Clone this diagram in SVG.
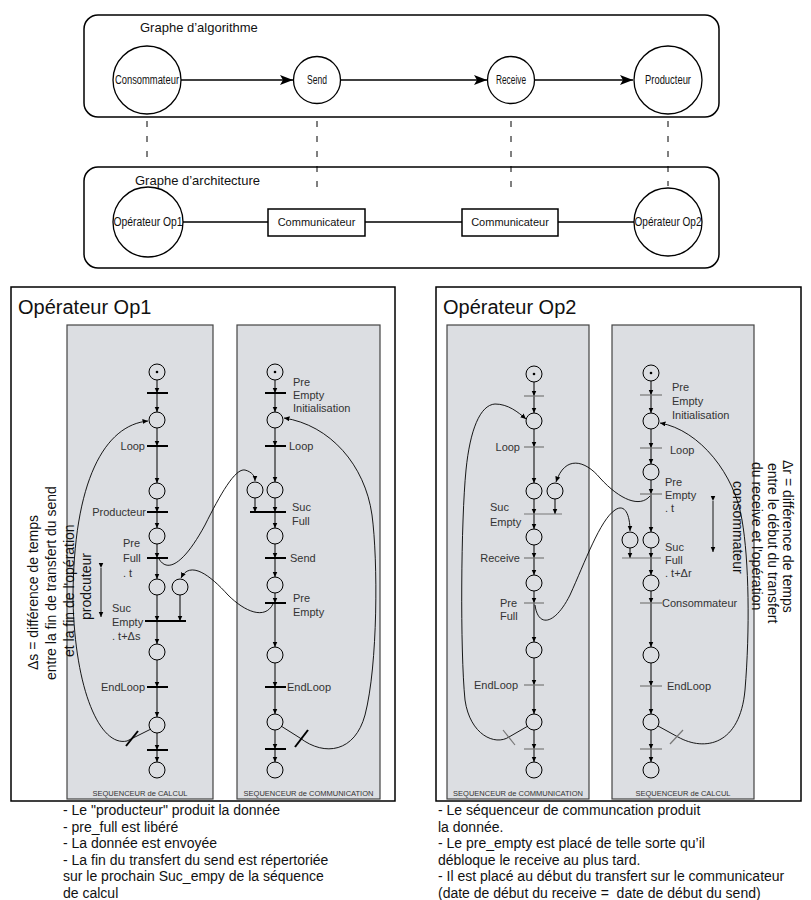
<svg xmlns="http://www.w3.org/2000/svg" width="811" height="900" viewBox="0 0 811 900">
<defs>
<marker id="big" markerUnits="userSpaceOnUse" markerWidth="14" markerHeight="10" refX="13" refY="5" orient="auto"><path d="M0,0 L13,5 L0,10 L3,5 z" fill="#000"/></marker>
<marker id="sm" markerUnits="userSpaceOnUse" markerWidth="6" markerHeight="6" refX="5.5" refY="2.5" orient="auto"><path d="M0,0 L5.5,2.5 L0,5 z" fill="#000"/></marker>
</defs>
<style>
text{font-family:"Liberation Sans",Arial,Helvetica,sans-serif}
.ttl{font-size:13px;fill:#111}
.node{fill:#fff;stroke:#000;stroke-width:1.3}
.cl{font-size:12px;text-anchor:middle;fill:#111}
.dash{stroke:#000;stroke-width:1;stroke-dasharray:6 9;fill:none}
.edge{stroke:#000;stroke-width:1.6;fill:none}
.panel{fill:#fff;stroke:#000;stroke-width:1.5}
.seq{fill:#dcdee2;stroke:#444;stroke-width:1.2}
.pl{fill:none;stroke:#000;stroke-width:1}
.ln{fill:none;stroke:#000;stroke-width:1;marker-end:url(#sm)}
.cv{fill:none;stroke:#000;stroke-width:0.9}
.b1{stroke:#000;stroke-width:2}
.b2{stroke:#777;stroke-width:1.2}
.lb{font-size:11px;fill:#333}
.seqt{font-size:7.5px;fill:#333;text-anchor:middle}
.vt{font-size:14px;fill:#111}
.note{font-size:14px;fill:#111;white-space:pre}
.ptl{font-size:20px;fill:#111}
</style>

<g id="algo-graph">
<rect x="84" y="15" width="635" height="102" rx="14" fill="#fff" stroke="#000" stroke-width="1.5"/>
<text class="ttl" x="140" y="32">Graphe d’algorithme</text>
</g>
<g id="arch-graph">
<rect x="84" y="167" width="635" height="101" rx="14" fill="#fff" stroke="#000" stroke-width="1.5"/>
<text class="ttl" x="135" y="185">Graphe d’architecture</text>
</g>

<g id="top-connectors">
<path class="dash" d="M147,121 V165 M317,121 V192 M511,121 V192 M668,121 V186"/>
<path class="edge" d="M181,80 H293" marker-end="url(#big)"/>
<path class="edge" d="M341,80 H487" marker-end="url(#big)"/>
<path class="edge" d="M535,80 H633" marker-end="url(#big)"/>
<path class="edge" d="M183,222 H268 M365,222 H462 M558,222 H634"/>
</g>

<g id="consommateur"><circle class="node" cx="147" cy="80" r="34"/><text class="cl" x="147" y="84" textLength="64" lengthAdjust="spacingAndGlyphs">Consommateur</text></g>
<g id="send"><circle class="node" cx="317" cy="80" r="23.5"/><text class="cl" x="317" y="84" textLength="20" lengthAdjust="spacingAndGlyphs">Send</text></g>
<g id="receive"><circle class="node" cx="511" cy="80" r="23.5"/><text class="cl" x="511" y="84" textLength="30" lengthAdjust="spacingAndGlyphs">Receive</text></g>
<g id="producteur"><circle class="node" cx="668" cy="80" r="34"/><text class="cl" x="668" y="84" textLength="46" lengthAdjust="spacingAndGlyphs">Producteur</text></g>

<g id="op1"><circle class="node" cx="148" cy="222" r="35"/><text class="cl" x="148" y="226" textLength="69" lengthAdjust="spacingAndGlyphs">Opérateur Op1</text></g>
<g id="comm1"><rect x="268" y="209" width="97" height="27" fill="#fff" stroke="#000" stroke-width="1.5"/><text x="316.5" y="226" font-size="11" text-anchor="middle" fill="#111">Communicateur</text></g>
<g id="comm2"><rect x="462" y="209" width="96" height="27" fill="#fff" stroke="#000" stroke-width="1.5"/><text x="510" y="226" font-size="11" text-anchor="middle" fill="#111">Communicateur</text></g>
<g id="op2"><circle class="node" cx="668" cy="222" r="34"/><text class="cl" x="668" y="226" textLength="67" lengthAdjust="spacingAndGlyphs">Opérateur Op2</text></g>

<g id="panel-op1">
<rect class="panel" x="11" y="287" width="384" height="514"/>
<text class="ptl" x="18" y="314">Opérateur Op1</text>
<rect class="seq" x="67" y="325" width="146" height="474"/>
<rect class="seq" x="237" y="325" width="143" height="474"/>
<text class="seqt" x="140" y="796">SEQUENCEUR de CALCUL</text>
<text class="seqt" x="308.5" y="796">SEQUENCEUR de COMMUNICATION</text>
<text class="vt" transform="translate(38,670) rotate(-90)">Δs = différence de temps</text>
<text class="vt" transform="translate(56,680) rotate(-90)">entre la fin de transfert du send</text>
<text class="vt" transform="translate(74,657) rotate(-90)">et la fin de l'opération</text>
<text class="vt" transform="translate(91,620) rotate(-90)">prodcuteur</text>
</g>

<g id="panel-op2">
<rect class="panel" x="436" y="287" width="365" height="514"/>
<text class="ptl" x="443" y="314">Opérateur Op2</text>
<rect class="seq" x="447" y="325" width="142" height="474"/>
<rect class="seq" x="612" y="325" width="142" height="474"/>
<text class="seqt" x="518" y="796">SEQUENCEUR de COMMUNICATION</text>
<text class="seqt" x="683" y="796">SEQUENCEUR de CALCUL</text>
<text class="vt" transform="translate(783,460) rotate(90)">Δr = différence de temps</text>
<text class="vt" transform="translate(768,463) rotate(90)">entre le début du transfert</text>
<text class="vt" transform="translate(752,462) rotate(90)">du receive et l'opération</text>
<text class="vt" transform="translate(733,481) rotate(90)">consommateur</text>
</g>

<g id="petri-connectors">
<path class="ln" d="M157,380 V393"/><path class="ln" d="M157,393 V412"/>
<path class="ln" d="M157,428 V446"/><path class="ln" d="M157,446 V483"/>
<path class="ln" d="M157,499 V512"/><path class="ln" d="M157,512 V528"/>
<path class="ln" d="M157,544 V558"/><path class="ln" d="M157,558 V579"/>
<path class="ln" d="M157,595 V621"/><path class="ln" d="M157,621 V644"/>
<path class="ln" d="M157,660 V687"/><path class="ln" d="M157,687 V717"/>
<path class="ln" d="M157,733 V750"/><path class="ln" d="M157,750 V762"/>
<path class="ln" d="M180,595 V621"/>
<path class="ln" d="M275,380 V393"/><path class="ln" d="M275,393 V412"/>
<path class="ln" d="M275,428 V446"/><path class="ln" d="M275,446 V482"/>
<path class="ln" d="M275,498 V512"/><path class="ln" d="M275,512 V528"/>
<path class="ln" d="M275,544 V558"/><path class="ln" d="M275,558 V577"/>
<path class="ln" d="M275,593 V603"/><path class="ln" d="M275,603 V647"/>
<path class="ln" d="M275,663 V687"/><path class="ln" d="M275,687 V714"/>
<path class="ln" d="M275,730 V749"/><path class="ln" d="M275,749 V762"/>
<path class="ln" d="M255,498 V512"/>
<path class="ln" d="M534,382 V396"/><path class="ln" d="M534,396 V413"/>
<path class="ln" d="M534,429 V447"/><path class="ln" d="M534,447 V483"/>
<path class="ln" d="M534,499 V514"/><path class="ln" d="M534,514 V529"/>
<path class="ln" d="M534,545 V558"/><path class="ln" d="M534,558 V575"/>
<path class="ln" d="M534,591 V603"/><path class="ln" d="M534,603 V642"/>
<path class="ln" d="M534,658 V685"/><path class="ln" d="M534,685 V714"/>
<path class="ln" d="M534,730 V749"/><path class="ln" d="M534,749 V762"/>
<path class="ln" d="M555,499 V514"/>
<path class="ln" d="M651,381 V395"/><path class="ln" d="M651,395 V413"/>
<path class="ln" d="M651,429 V448"/><path class="ln" d="M651,448 V464"/>
<path class="ln" d="M651,480 V494"/><path class="ln" d="M651,494 V532"/>
<path class="ln" d="M651,548 V558"/><path class="ln" d="M651,558 V575"/>
<path class="ln" d="M651,591 V603"/><path class="ln" d="M651,603 V647"/>
<path class="ln" d="M651,663 V686"/><path class="ln" d="M651,686 V714"/>
<path class="ln" d="M651,730 V749"/><path class="ln" d="M651,749 V762"/>
<path class="ln" d="M630,548 V558"/>

<path class="cv" d="M151,729 L127,741"/>
<path class="cv" d="M127,741 C100,747 75,690 73,600 C73,480 105,425 148,421" marker-end="url(#sm)"/>
<path class="cv" d="M281,726 L300,738"/>
<path class="cv" d="M300,738 C325,757 355,752 365,715 C378,665 378,560 372,515 C365,465 330,425 284,418" marker-end="url(#sm)"/>
<path class="cv" d="M528,726 L509,737"/>
<path class="cv" d="M509,737 C495,746 470,735 465,700 C460,650 461,520 466,470 C470,430 480,405 495,404 C508,404 518,412 526,419" marker-end="url(#sm)"/>
<path class="cv" d="M658,726 L678,737"/>
<path class="cv" d="M678,737 C705,752 740,745 745,690 C750,630 749,560 742,520 C735,475 700,430 660,423" marker-end="url(#sm)"/>
<path class="cv" d="M159,559 C168,574 185,562 205,525 C220,495 235,468 245,470 C252,472 255,476 255,481" marker-end="url(#sm)"/>
<path class="cv" d="M273,604 C265,620 245,612 228,595 C210,575 190,560 181,578" marker-end="url(#sm)"/>
<path class="cv" d="M650,496 C640,508 620,500 600,478 C585,460 565,455 556,482" marker-end="url(#sm)"/>
<path class="cv" d="M535,605 C538,628 555,625 570,595 C585,562 600,520 615,510 C625,503 630,515 630,531" marker-end="url(#sm)"/>
<path class="b1" d="M126,746 L138,731"/>
<path class="b1" d="M295,747 L308,730"/>
<path class="b2" d="M503,730 L515,745"/>
<path class="b2" d="M670,744 L683,730"/>
<path class="cv" stroke-width="1.5" d="M101,568 V617" marker-start="url(#sm)" marker-end="url(#sm)"/>
<path class="cv" stroke-width="1.5" d="M713,501 V552" marker-start="url(#sm)" marker-end="url(#sm)"/>
</g>

<g id="op1-calcul">
<circle class="pl" cx="157" cy="372" r="8"/><circle cx="157" cy="372" r="1.3"/>
<line class="b1" x1="147" y1="393" x2="168" y2="393"/>
<circle class="pl" cx="157" cy="420" r="8"/>
<line class="b1" x1="147" y1="446" x2="168" y2="446"/>
<text class="lb" x="145" y="450" text-anchor="end">Loop</text>
<circle class="pl" cx="157" cy="491" r="8"/>
<line class="b1" x1="147" y1="512" x2="168" y2="512"/>
<text class="lb" x="146" y="516" text-anchor="end">Producteur</text>
<circle class="pl" cx="157" cy="536" r="8"/>
<line class="b1" x1="147" y1="558" x2="168" y2="558"/>
<text class="lb" x="123" y="547">Pre</text><text class="lb" x="123" y="562">Full</text><text class="lb" x="123" y="577">. t</text>
<circle class="pl" cx="157" cy="587" r="8"/><circle class="pl" cx="180" cy="587" r="8"/>
<line class="b1" x1="145" y1="621" x2="186" y2="621"/>
<text class="lb" x="112" y="612">Suc</text><text class="lb" x="112" y="626">Empty</text><text class="lb" x="112" y="640">. t+Δs</text>
<circle class="pl" cx="157" cy="652" r="8"/>
<line class="b1" x1="147" y1="687" x2="168" y2="687"/>
<text class="lb" x="145" y="691" text-anchor="end">EndLoop</text>
<circle class="pl" cx="157" cy="725" r="8"/>
<line class="b1" x1="147" y1="750" x2="168" y2="750"/>
<circle class="pl" cx="157" cy="770" r="8"/>
</g>

<g id="op1-comm">
<circle class="pl" cx="275" cy="372" r="8"/><circle cx="275" cy="372" r="1.3"/>
<line class="b1" x1="265" y1="393" x2="286" y2="393"/>
<text class="lb" x="293" y="386">Pre</text><text class="lb" x="293" y="399">Empty</text><text class="lb" x="293" y="412">Initialisation</text>
<circle class="pl" cx="275" cy="420" r="8"/>
<line class="b1" x1="265" y1="446" x2="286" y2="446"/>
<text class="lb" x="289" y="450">Loop</text>
<circle class="pl" cx="255" cy="490" r="8"/><circle class="pl" cx="275" cy="490" r="8"/>
<line class="b1" x1="250" y1="512" x2="286" y2="512"/>
<text class="lb" x="292" y="511">Suc</text><text class="lb" x="292" y="525">Full</text>
<circle class="pl" cx="275" cy="536" r="8"/>
<line class="b1" x1="265" y1="558" x2="286" y2="558"/>
<text class="lb" x="290" y="562">Send</text>
<circle class="pl" cx="275" cy="585" r="8"/>
<line class="b1" x1="265" y1="603" x2="286" y2="603"/>
<text class="lb" x="293" y="602">Pre</text><text class="lb" x="293" y="616">Empty</text>
<circle class="pl" cx="275" cy="655" r="8"/>
<line class="b1" x1="265" y1="687" x2="286" y2="687"/>
<text class="lb" x="287" y="691">EndLoop</text>
<circle class="pl" cx="275" cy="722" r="8"/>
<line class="b1" x1="265" y1="749" x2="286" y2="749"/>
<circle class="pl" cx="275" cy="770" r="8"/>
</g>

<g id="op2-comm">
<circle class="pl" cx="534" cy="374" r="8"/><circle cx="534" cy="374" r="1.3"/>
<line class="b2" x1="524" y1="396" x2="544" y2="396"/>
<circle class="pl" cx="534" cy="421" r="8"/>
<line class="b2" x1="524" y1="447" x2="544" y2="447"/>
<text class="lb" x="520" y="451" text-anchor="end">Loop</text>
<circle class="pl" cx="534" cy="491" r="8"/><circle class="pl" cx="555" cy="491" r="8"/>
<line class="b2" x1="524" y1="514" x2="562" y2="514"/>
<text class="lb" x="490" y="511">Suc</text><text class="lb" x="490" y="526">Empty</text>
<circle class="pl" cx="534" cy="537" r="8"/>
<line class="b2" x1="524" y1="558" x2="544" y2="558"/>
<text class="lb" x="520" y="562" text-anchor="end">Receive</text>
<circle class="pl" cx="534" cy="583" r="8"/>
<line class="b2" x1="524" y1="603" x2="544" y2="603"/>
<text class="lb" x="500" y="607">Pre</text><text class="lb" x="500" y="620">Full</text>
<circle class="pl" cx="534" cy="650" r="8"/>
<line class="b2" x1="524" y1="685" x2="544" y2="685"/>
<text class="lb" x="518" y="689" text-anchor="end">EndLoop</text>
<circle class="pl" cx="534" cy="722" r="8"/>
<line class="b2" x1="524" y1="749" x2="544" y2="749"/>
<circle class="pl" cx="534" cy="770" r="8"/>
</g>

<g id="op2-calcul">
<circle class="pl" cx="651" cy="373" r="8"/><circle cx="651" cy="373" r="1.3"/>
<line class="b2" x1="640" y1="395" x2="662" y2="395"/>
<text class="lb" x="672" y="391">Pre</text><text class="lb" x="672" y="405">Empty</text><text class="lb" x="672" y="419">Initialisation</text>
<circle class="pl" cx="651" cy="421" r="8"/>
<line class="b2" x1="640" y1="448" x2="662" y2="448"/>
<text class="lb" x="670" y="454">Loop</text>
<circle class="pl" cx="651" cy="472" r="8"/>
<line class="b2" x1="640" y1="494" x2="662" y2="494"/>
<text class="lb" x="665" y="486">Pre</text><text class="lb" x="665" y="499">Empty</text><text class="lb" x="665" y="512">. t</text>
<circle class="pl" cx="630" cy="540" r="8"/><circle class="pl" cx="651" cy="540" r="8"/>
<line class="b2" x1="622" y1="558" x2="661" y2="558"/>
<text class="lb" x="665" y="551">Suc</text><text class="lb" x="665" y="564">Full</text><text class="lb" x="665" y="577">. t+Δr</text>
<circle class="pl" cx="651" cy="583" r="8"/>
<line class="b2" x1="640" y1="603" x2="662" y2="603"/>
<text class="lb" x="662" y="607">Consommateur</text>
<circle class="pl" cx="651" cy="655" r="8"/>
<line class="b2" x1="640" y1="686" x2="662" y2="686"/>
<text class="lb" x="667" y="690">EndLoop</text>
<circle class="pl" cx="651" cy="722" r="8"/>
<line class="b2" x1="640" y1="749" x2="662" y2="749"/>
<circle class="pl" cx="651" cy="770" r="8"/>
</g>

<g id="notes-op1">
<text class="note" x="63" y="815">- Le "producteur" produit la donnée</text>
<text class="note" x="63" y="831.5">- pre_full est libéré</text>
<text class="note" x="63" y="848">- La donnée est envoyée</text>
<text class="note" x="63" y="864.5">- La fin du transfert du send est répertoriée</text>
<text class="note" x="63" y="881">sur le prochain Suc_empy de la séquence</text>
<text class="note" x="63" y="897.5">de calcul</text>
</g>
<g id="notes-op2">
<text class="note" x="438" y="815">- Le séquenceur de communcation produit</text>
<text class="note" x="438" y="831.5">la donnée.</text>
<text class="note" x="438" y="848">- Le pre_empty est placé de telle sorte qu’il</text>
<text class="note" x="438" y="864.5">débloque le receive au plus tard.</text>
<text class="note" x="438" y="881">- Il est placé au début du transfert sur le communicateur</text>
<text class="note" x="438" y="897.5">(date de début du receive =  date de début du send)</text>
</g>
</svg>
